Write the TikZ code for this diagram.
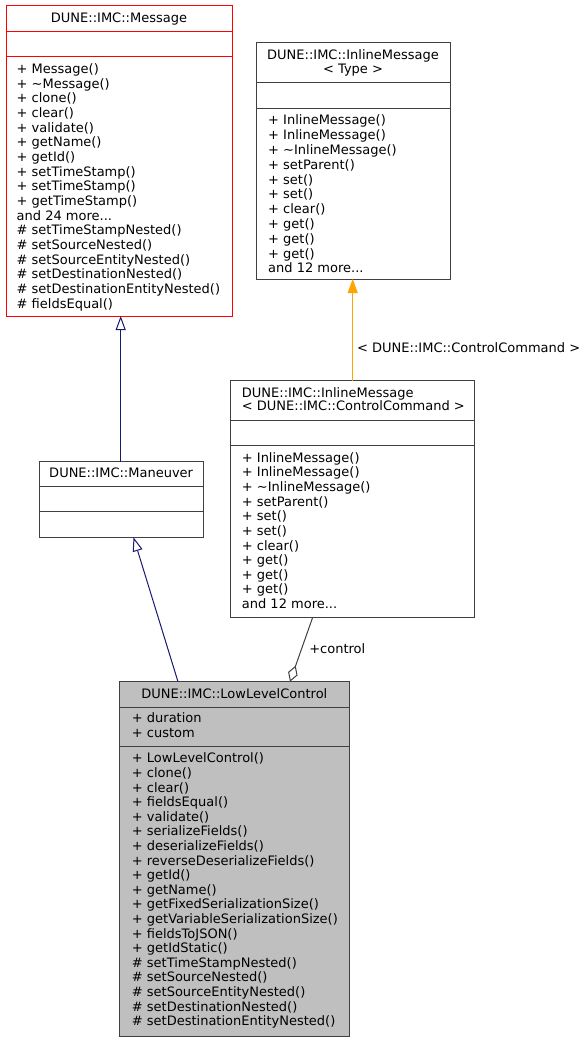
\documentclass[tikz,border=0pt]{standalone}
\usepackage{fontspec}
\setmainfont{DejaVu Sans}
\usetikzlibrary{arrows.meta,calc}
\definecolor{edgegray}{HTML}{404040}
\definecolor{navyedge}{HTML}{191970}
\definecolor{orangeedge}{HTML}{FFA500}
\definecolor{msgred}{HTML}{FF0000}
\definecolor{llcfill}{HTML}{BFBFBF}
\newcommand\tdots{...}
\newcommand\classbox[6]{\node[cls,#6,minimum width={#4-#2},minimum height={#5-#3}] (#1) at ({(#2+#4)/2},{(#3+#5)/2}) {};}
\newcommand\mlist[5]{\foreach \mm [count=\ii from 0] in {#5} {\node[txt] (#1-\ii) at (#2,{#3+4.6+\ii*#4}) {\mm};}}
\newcommand\sepline[3]{\draw[sepst,#3] (#1.west |- 0,#2) -- (#1.east |- 0,#2);}
\begin{document}
\begin{tikzpicture}[x=1pt,y=-1pt,
  font=\fontsize{13}{14.65}\selectfont,
  cls/.style={draw=edgegray,line width=1pt,fill=white,inner sep=0pt,outer sep=0pt},
  sepst/.style={draw=edgegray,line width=1pt},
  txt/.style={inner sep=0pt,anchor=base west},
  ttl/.style={inner sep=0pt,anchor=base},
  inh/.style={draw=navyedge,line width=1pt,-{Triangle[open,length=14pt,width=10pt,fill=white]}},
  tpl/.style={draw=orangeedge,line width=1pt,-{Triangle[length=14pt,width=10pt,fill=orangeedge]}},
  agg/.style={draw=edgegray,line width=1pt,-{Diamond[open,length=17pt,width=10pt,fill=white]}},
  lbl/.style={inner sep=0pt,anchor=west}]
\useasboundingbox[fill=white] (0,0) rectangle (584,1043);

% DUNE::IMC::Message
\classbox{msg}{6}{6}{232}{316}{draw=msgred}
\sepline{msg}{31.5}{draw=msgred}
\sepline{msg}{56.5}{draw=msgred}
\node[ttl] (msgt) at (119,22.6) {DUNE::IMC::Message};
\mlist{msgm}{16.5}{69}{14.65}{+ Message(),+ \textasciitilde Message(),+ clone(),+ clear(),+ validate(),+ getName(),+ getId(),+ setTimeStamp(),+ setTimeStamp(),+ getTimeStamp(),and 24 more\tdots,\# setTimeStampNested(),\# setSourceNested(),\# setSourceEntityNested(),\# setDestinationNested(),\# setDestinationEntityNested(),\# fieldsEqual()}

% DUNE::IMC::InlineMessage< Type >
\classbox{tmpl}{256}{43}{450}{279}{}
\sepline{tmpl}{82.7}{}
\sepline{tmpl}{108.3}{}
\node[ttl] (tmplt1) at (353,59.6) {DUNE::IMC::InlineMessage};
\node[ttl] (tmplt2) at (353,73.1) {< Type >};
\mlist{tmplm}{268}{120.2}{14.8}{+ InlineMessage(),+ InlineMessage(),+ \textasciitilde InlineMessage(),+ setParent(),+ set(),+ set(),+ clear(),+ get(),+ get(),+ get(),and 12 more\tdots}

% DUNE::IMC::InlineMessage< DUNE::IMC::ControlCommand >
\classbox{inl}{230}{380.7}{474}{617.3}{}
\sepline{inl}{420.3}{}
\sepline{inl}{445.7}{}
\node[txt] (inlt1) at (241.7,397.3) {DUNE::IMC::InlineMessage};
\node[txt] (inlt2) at (241.7,410.8) {< DUNE::IMC::ControlCommand >};
\mlist{inlm}{241.7}{457.7}{14.63}{+ InlineMessage(),+ InlineMessage(),+ \textasciitilde InlineMessage(),+ setParent(),+ set(),+ set(),+ clear(),+ get(),+ get(),+ get(),and 12 more\tdots}

% DUNE::IMC::Maneuver
\classbox{man}{39}{461.7}{203.3}{537.3}{}
\sepline{man}{486.7}{}
\sepline{man}{511.7}{}
\node[ttl] (mant) at (121.15,477.3) {DUNE::IMC::Maneuver};

% DUNE::IMC::LowLevelControl
\classbox{llc}{119.3}{681.7}{349.3}{1036.7}{fill=llcfill}
\sepline{llc}{707.3}{}
\sepline{llc}{746.7}{}
\node[ttl] (llct) at (234.3,698.6) {DUNE::IMC::LowLevelControl};
\mlist{llca}{131.7}{718.3}{15}{+ duration,+ custom}
\mlist{llcm}{131.7}{758.3}{14.6}{+ LowLevelControl(),+ clone(),+ clear(),+ fieldsEqual(),+ validate(),+ serializeFields(),+ deserializeFields(),+ reverseDeserializeFields(),+ getId(),+ getName(),+ getFixedSerializationSize(),+ getVariableSerializationSize(),+ fieldsToJSON(),+ getIdStatic(),\# setTimeStampNested(),\# setSourceNested(),\# setSourceEntityNested(),\# setDestinationNested(),\# setDestinationEntityNested()}

% connectors
\draw[inh] ($(man.north west)+(81.7,0)$) -- ($(man.north west |- msg.south)+(81.7,0)$);
\draw[inh] ($(llc.north west)+(58.7,0)$) -- ($(man.south west)+(94.5,0)$);
\draw[tpl] ($(inl.north west)+(122.7,0)$) -- ($(inl.north west |- tmpl.south)+(122.7,0)$)
  node[lbl,pos=0.326,xshift=4pt] (tpllbl) {< DUNE::IMC::ControlCommand >};
\draw[agg] ($(inl.south west)+(82.7,0)$) -- ($(llc.north west)+(170.7,0)$)
  node[lbl,pos=0.48,xshift=7pt] (agglbl) {+control};
\end{tikzpicture}
\end{document}
